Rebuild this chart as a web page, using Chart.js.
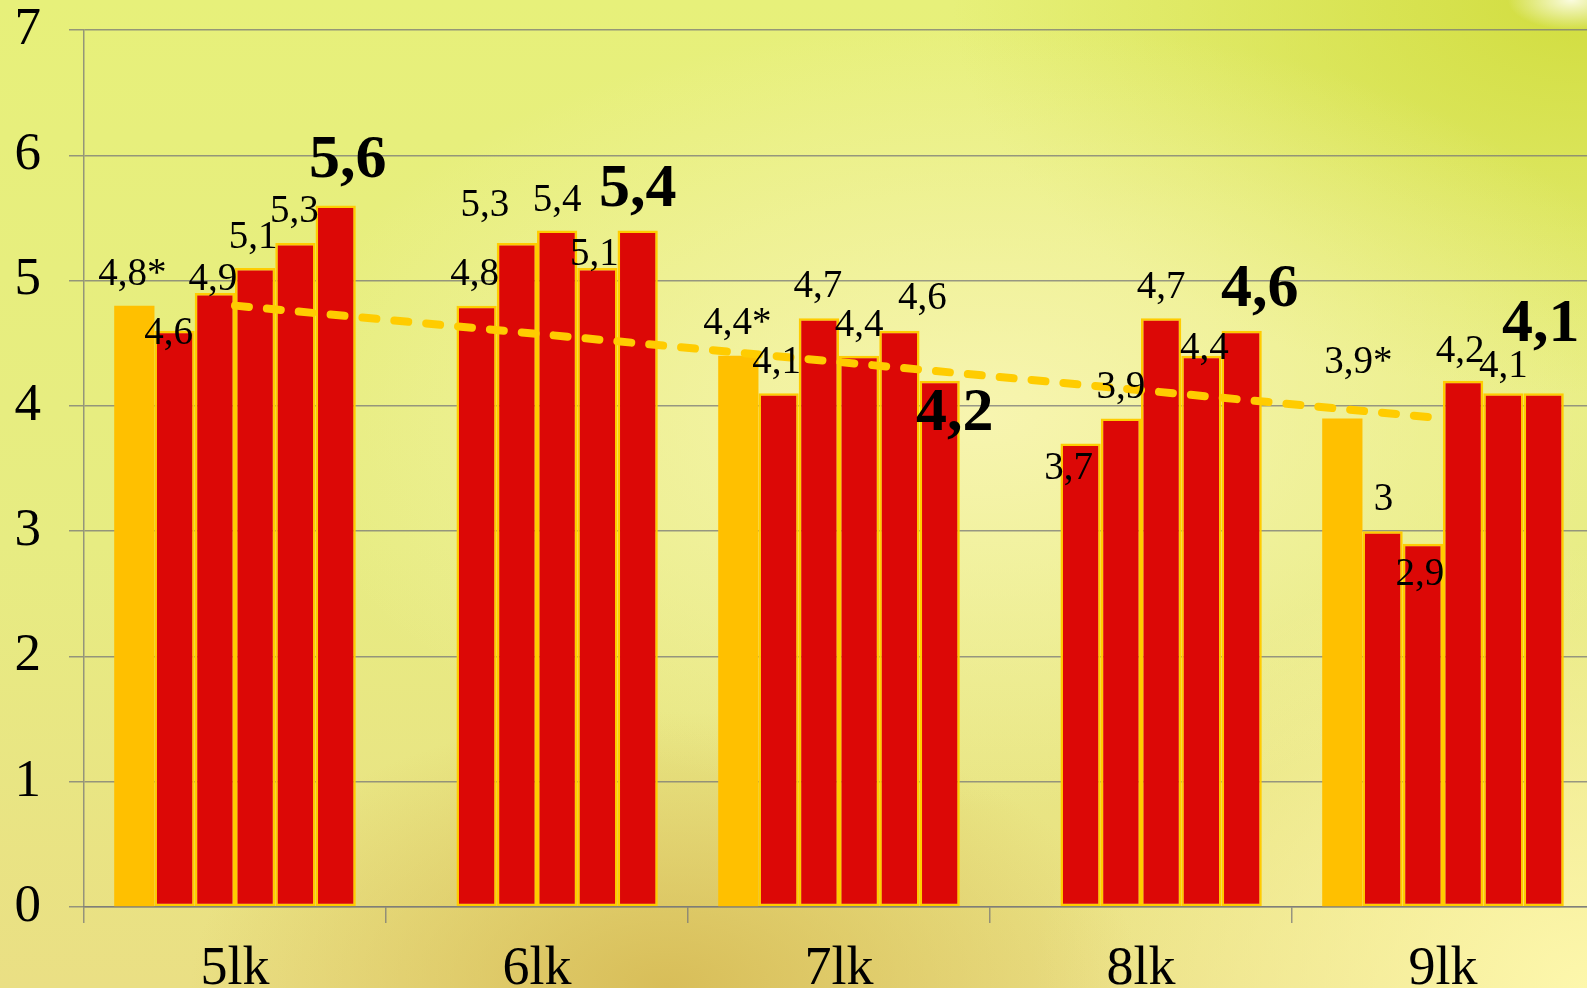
<!DOCTYPE html>
<html>
<head>
<meta charset="utf-8">
<script src="https://cdn.jsdelivr.net/npm/chart.js@4"></script>
<style>
  html, body {
    margin: 0;
    padding: 0;
    width: 1587px;
    height: 988px;
    overflow: hidden;
    background:
      radial-gradient(ellipse 4% 3% at 99% 0%, rgba(255,255,240,0.9) 0%, rgba(255,255,240,0) 100%),
      radial-gradient(ellipse 45% 40% at 62% 42%, rgba(248,245,178,0.95) 0%, rgba(248,245,178,0) 100%),
      radial-gradient(ellipse 30% 28% at 42% 100%, rgba(214,186,84,0.9) 0%, rgba(214,186,84,0) 100%),
      radial-gradient(ellipse 40% 40% at 100% 0%, rgba(208,220,60,0.95) 0%, rgba(208,220,60,0) 100%),
      radial-gradient(ellipse 35% 45% at 100% 100%, rgba(253,247,172,1) 0%, rgba(253,247,172,0) 100%),
      linear-gradient(180deg, #e7f07a 0%, #e7ec82 55%, #eadf84 100%);
  }
  canvas { display: block; }
</style>
</head>
<body>
<canvas id="gradeChart" width="1600" height="988"></canvas>
<script>
const grades = ['5lk', '6lk', '7lk', '8lk', '9lk'];
const reference = [4.8, null, 4.4, null, 3.9];   // starred values
const roundA = [4.6, 4.8, 4.1, 3.7, 3.0];
const roundB = [4.9, 5.3, 4.7, 3.9, 2.9];
const roundC = [5.1, 5.4, 4.4, 4.7, 4.2];
const roundD = [5.3, 5.1, 4.6, 4.4, 4.1];
const latest = [5.6, 5.4, 4.2, 4.6, 4.1];
const trend = [4.8, null, null, null, 3.9];
const yTicks = [0, 1, 2, 3, 4, 5, 6, 7];

const series = [reference, roundA, roundB, roundC, roundD, latest];

// label nudges [dx, dy] from top-centre of each bar, per series then per grade
const labelShift = [
    [[-2, -34], null, [-1, -35], null, [16, -59]],
    [[-6, 0], [-2, -34], [-2, -34], [-12, 22], [1, -34]],
    [[-2, -16], [-32, -40], [-1, -34], [0, -34], [-3, 28]],
    [[-2, -33], [0, -33], [0, -33], [0, -33], [-3, -32]],
    [[-1, -34], [-3, -16], [23, -35], [3, -10], [0, -30]],
    [[12, -49], [0, -45], [15, 28], [18, -46], [-3, -73]]
];

const SERIF = '"Liberation Serif", "Times New Roman", serif';
const GRID = 'rgba(120, 120, 120, 0.75)';

const barLabels = {
    id: 'barLabels',
    afterDatasetsDraw(chart) {
        const ctx = chart.ctx;
        ctx.save();
        ctx.fillStyle = '#000';
        ctx.textAlign = 'center';
        ctx.textBaseline = 'alphabetic';
        series.forEach((values, j) => {
            const meta = chart.getDatasetMeta(j);
            meta.data.forEach((bar, i) => {
                const v = values[i];
                if (v == null) return;
                const bold = j === series.length - 1;
                const size = bold ? 62 : 39;
                ctx.font = (bold ? 'bold ' : '') + size + 'px ' + SERIF;
                const shift = labelShift[j][i] || [0, -34];
                const text = String(v).replace('.', ',') + (j === 0 ? '*' : '');
                ctx.fillText(text, bar.x + shift[0], bar.y + shift[1] + size * 0.338);
            });
        });
        ctx.restore();
    }
};

const barSet = (values, i) => ({
    type: 'bar',
    data: values,
    backgroundColor: i === 0 ? '#ffc000' : '#dc0806',
    borderColor: i === 0 ? '#ffc000' : '#ffcc00',
    borderWidth: i === 0 ? 0 : 2.5,
    borderSkipped: false,
    categoryPercentage: 0.8,
    barPercentage: 1.0,
    order: 1
});

const ctx = document.getElementById('gradeChart').getContext('2d');
new Chart(ctx, {
    data: {
        labels: grades,
        datasets: [
            ...series.map(barSet),
            {
                type: 'line',
                data: trend,
                spanGaps: true,
                borderColor: '#ffcc00',
                borderWidth: 8,
                borderDash: [14, 18],
                borderCapStyle: 'round',
                pointRadius: 0,
                fill: false,
                order: 0
            }
        ]
    },
    options: {
        responsive: false,
        animation: false,
        layout: { autoPadding: false, padding: { left: 15, right: 6, top: 30, bottom: 0 } },
        plugins: {
            legend: { display: false },
            tooltip: { enabled: false }
        },
        scales: {
            x: {
                afterFit: scale => {
                    scale.height = 81;
                    scale.paddingLeft = 0;
                    scale.paddingRight = 0;
                },
                grid: {
                    drawOnChartArea: false,
                    drawTicks: true,
                    tickLength: 16,
                    color: GRID,
                    lineWidth: 1.5
                },
                border: { display: true, color: GRID, width: 1.5 },
                ticks: {
                    color: '#000',
                    padding: 20,
                    font: { family: SERIF, size: 54, lineHeight: 1 }
                }
            },
            y: {
                min: 0,
                max: 7,
                afterBuildTicks: scale => { scale.ticks = yTicks.map(v => ({ value: v })); },
                afterFit: scale => {
                    scale.width = 69;
                    scale.paddingTop = 0;
                    scale.paddingBottom = 0;
                },
                grid: {
                    color: GRID,
                    lineWidth: 1.5,
                    tickLength: 15
                },
                border: { display: true, color: GRID, width: 1.5 },
                ticks: {
                    color: '#000',
                    padding: 28,
                    font: { family: SERIF, size: 53, lineHeight: 1 }
                }
            }
        }
    },
    plugins: [barLabels]
});
</script>
</body>
</html>
